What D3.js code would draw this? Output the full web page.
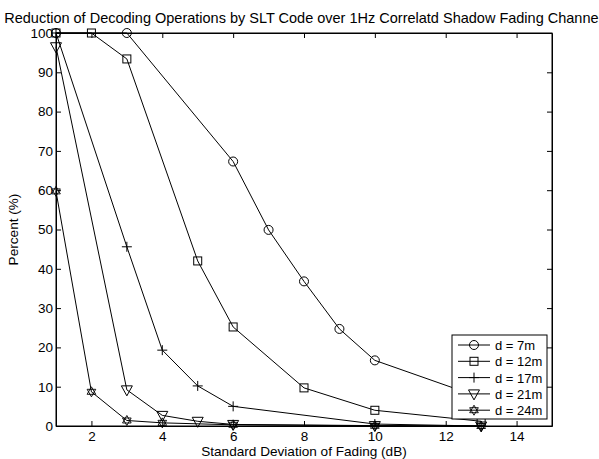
<!DOCTYPE html>
<html>
<head>
<meta charset="utf-8">
<script src="https://cdn.jsdelivr.net/npm/d3@7"></script>
<style>
  body { margin: 0; background: #fff; }
  svg { font-family: "Liberation Sans", Arial, sans-serif; }
</style>
</head>
<body>
<svg id="chart" width="599" height="459"></svg>
<script>
// data
var names = ["d = 7m", "d = 12m", "d = 17m", "d = 21m", "d = 24m"];
var markers = ["circle", "square", "plus", "triangle", "star"];

var x7 = [1, 3, 6, 7, 8, 9, 10, 13];
var y7 = [100, 100, 67.3, 49.9, 36.8, 24.7, 16.7, 7.2];
var x12 = [1, 2, 3, 5, 6, 8, 10, 13];
var y12 = [100, 100, 93.4, 42, 25.2, 9.7, 4.0, 1.2];
var x17 = [1, 3, 4, 5, 6, 10, 13];
var y17 = [100, 45.6, 19.3, 10.2, 5.0, 0.5, 0];
var x21 = [1, 3, 4, 5, 6, 10, 13];
var y21 = [96.5, 9.2, 2.7, 1.2, 0.4, 0.1, 0];
var x24 = [1, 2, 3, 4, 6, 10, 13];
var y24 = [59.7, 8.7, 1.4, 0.8, 0.3, 0.05, 0];

var xTicks = [2, 4, 6, 8, 10, 12, 14];
var yTicks = [0, 10, 20, 30, 40, 50, 60, 70, 80, 90, 100];

var seriesX = [x7, x12, x17, x21, x24];
var seriesY = [y7, y12, y17, y21, y24];

var svg = d3.select("#chart");
var pLeft = 56, pRight = 552, pTop = 33, pBottom = 426;

var x = d3.scaleLinear().domain([1, 15]).range([pLeft, pRight]);
var y = d3.scaleLinear().domain([0, 100]).range([pBottom, pTop]);

// box
svg.append("rect")
  .attr("x", pLeft).attr("y", pTop)
  .attr("width", pRight - pLeft).attr("height", pBottom - pTop)
  .attr("fill", "none").attr("stroke", "#000").attr("stroke-width", 1);

// axes, ticks pointing inside like matlab
var fs = "13.5px";
var gx = svg.append("g").attr("transform", "translate(0," + pBottom + ")")
  .call(d3.axisBottom(x).tickValues(xTicks).tickSizeInner(-5).tickSizeOuter(0).tickPadding(5));
var gxt = svg.append("g").attr("transform", "translate(0," + pTop + ")")
  .call(d3.axisTop(x).tickValues(xTicks).tickSizeInner(-5).tickSizeOuter(0).tickFormat(""));
var gy = svg.append("g").attr("transform", "translate(" + pLeft + ",0)")
  .call(d3.axisLeft(y).tickValues(yTicks).tickSizeInner(-5).tickSizeOuter(0).tickPadding(3));
var gyr = svg.append("g").attr("transform", "translate(" + pRight + ",0)")
  .call(d3.axisRight(y).tickValues(yTicks).tickSizeInner(-5).tickSizeOuter(0).tickFormat(""));

[gx, gxt, gy, gyr].forEach(function (g) {
  g.select(".domain").attr("stroke", "#000");
  g.selectAll(".tick line").attr("stroke", "#000");
  g.selectAll("text").attr("fill", "#000").style("font-size", fs)
    .style("font-family", "'Liberation Sans', Arial, sans-serif");
});

// markers
function drawMarker(g, type, cx, cy) {
  if (type === "circle") {
    g.append("circle").attr("cx", cx).attr("cy", cy).attr("r", 4.5)
      .attr("fill", "none").attr("stroke", "#000");
  } else if (type === "square") {
    g.append("rect").attr("x", cx - 4).attr("y", cy - 4).attr("width", 8).attr("height", 8)
      .attr("fill", "none").attr("stroke", "#000");
  } else if (type === "plus") {
    g.append("path").attr("d", "M" + (cx - 5) + "," + cy + "H" + (cx + 5) + "M" + cx + "," + (cy - 5) + "V" + (cy + 5))
      .attr("fill", "none").attr("stroke", "#000");
  } else if (type === "triangle") {
    g.append("path").attr("d", "M" + (cx - 5.5) + "," + (cy - 4) + "L" + (cx + 5.5) + "," + (cy - 4) + "L" + cx + "," + (cy + 6) + "Z")
      .attr("fill", "none").attr("stroke", "#000");
  } else if (type === "star") {
    var r = 5;
    var t1 = [0, 1, 2].map(function (i) { var a = -Math.PI / 2 + i * 2 * Math.PI / 3; return [cx + r * Math.cos(a), cy + r * Math.sin(a)]; });
    var t2 = [0, 1, 2].map(function (i) { var a = Math.PI / 2 + i * 2 * Math.PI / 3; return [cx + r * Math.cos(a), cy + r * Math.sin(a)]; });
    g.append("path").attr("d", "M" + t1.join("L") + "Z M" + t2.join("L") + "Z")
      .attr("fill", "none").attr("stroke", "#000").attr("stroke-width", 0.9);
  }
}

var line = d3.line().x(function (d) { return x(d[0]); }).y(function (d) { return y(d[1]); });

for (var s = 0; s < names.length; s++) {
  var pts = seriesX[s].map(function (v, i) { return [v, seriesY[s][i]]; });
  var g = svg.append("g");
  g.append("path").datum(pts).attr("d", line)
    .attr("fill", "none").attr("stroke", "#000").attr("stroke-width", 1);
  pts.forEach(function (p) { drawMarker(g, markers[s], x(p[0]), y(p[1])); });
}

// legend
var lg = svg.append("g");
lg.append("rect").attr("x", 452).attr("y", 335).attr("width", 95).attr("height", 84)
  .attr("fill", "#fff").attr("stroke", "#000");
names.forEach(function (n, i) {
  var ly = 345 + i * 16.3;
  lg.append("line").attr("x1", 458).attr("x2", 490).attr("y1", ly).attr("y2", ly).attr("stroke", "#000");
  drawMarker(lg, markers[i], 474, ly);
  lg.append("text").attr("x", 495).attr("y", ly + 5).style("font-size", "13px").text(n);
});

// titles
svg.append("text").attr("x", (pLeft + pRight) / 2 - 1).attr("y", 23).attr("text-anchor", "middle")
  .style("font-size", "14.5px").text("Reduction of Decoding Operations by SLT Code over 1Hz Correlatd Shadow Fading Channel");
svg.append("text").attr("x", (pLeft + pRight) / 2).attr("y", 456).attr("text-anchor", "middle")
  .style("font-size", "13.6px").text("Standard Deviation of Fading (dB)");
svg.append("text").attr("transform", "translate(18," + ((pTop + pBottom) / 2) + ") rotate(-90)")
  .attr("text-anchor", "middle").style("font-size", "13.6px").text("Percent (%)");
</script>
</body>
</html>
